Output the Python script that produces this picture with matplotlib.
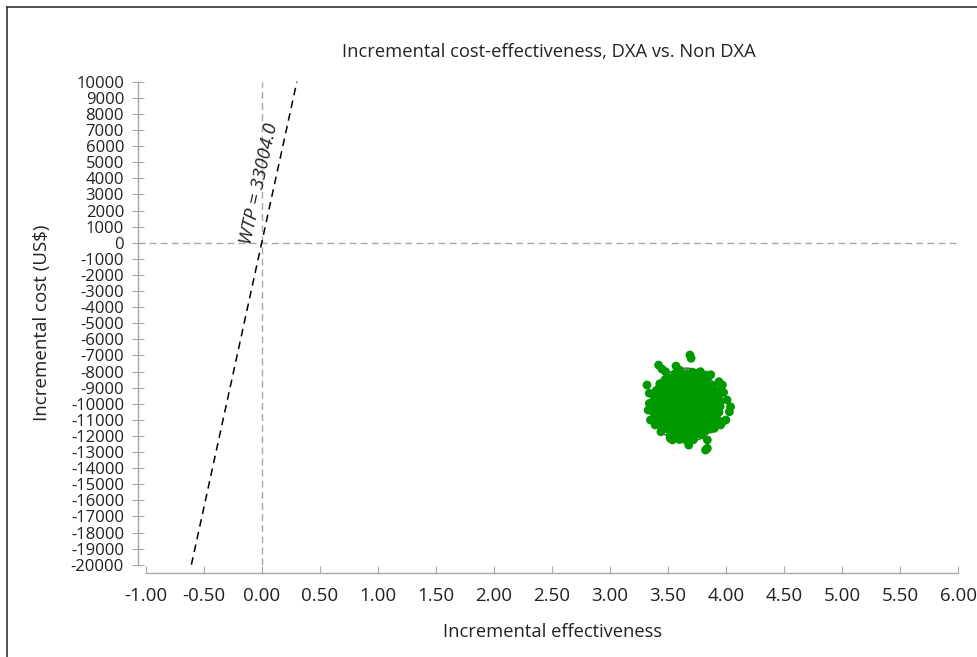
import matplotlib.pyplot as plt
from matplotlib.patches import Ellipse
from matplotlib.lines import Line2D

plt.rcParams['font.family'] = ['Open Sans', 'DejaVu Sans']

title = "Incremental cost-effectiveness, DXA vs. Non DXA"
x_label = "Incremental effectiveness"
y_label = "Incremental cost (US$)"
wtp = 33004.0

x_ticks = [-1.0, -0.5, 0.0, 0.5, 1.0, 1.5, 2.0, 2.5, 3.0, 3.5, 4.0, 4.5, 5.0, 5.5, 6.0]
y_ticks = list(range(-20000, 10001, 1000))

# simulated (effect, cost) pairs
points = [
    (3.56, -8150), (3.61, -8060), (3.66, -8120), (3.71, -8040), (3.76, -8180),
    (3.48, -8480), (3.53, -8390), (3.58, -8500), (3.63, -8420), (3.68, -8470),
    (3.73, -8380), (3.78, -8520), (3.84, -8430),
    (3.43, -8760), (3.48, -8850), (3.54, -8790), (3.59, -8830), (3.64, -8740),
    (3.69, -8860), (3.74, -8780), (3.79, -8820), (3.84, -8750), (3.89, -8870),
    (3.40, -9180), (3.45, -9100), (3.50, -9200), (3.56, -9130), (3.61, -9170),
    (3.66, -9090), (3.71, -9210), (3.76, -9140), (3.81, -9160), (3.86, -9110),
    (3.92, -9190),
    (3.38, -9470), (3.44, -9540), (3.49, -9480), (3.54, -9520), (3.60, -9450),
    (3.65, -9550), (3.70, -9490), (3.75, -9530), (3.80, -9460), (3.85, -9510),
    (3.90, -9560), (3.94, -9480),
    (3.37, -9880), (3.42, -9820), (3.47, -9870), (3.53, -9830), (3.58, -9890),
    (3.63, -9810), (3.68, -9860), (3.73, -9900), (3.78, -9820), (3.84, -9870),
    (3.89, -9840), (3.95, -9880),
    (3.37, -10170), (3.43, -10230), (3.48, -10180), (3.53, -10240), (3.59, -10160),
    (3.64, -10220), (3.69, -10190), (3.74, -10250), (3.79, -10170), (3.85, -10210),
    (3.90, -10230), (3.95, -10160),
    (3.38, -10580), (3.43, -10520), (3.49, -10570), (3.54, -10510), (3.59, -10590),
    (3.64, -10530), (3.70, -10560), (3.75, -10500), (3.80, -10580), (3.85, -10540),
    (3.90, -10600), (3.94, -10520),
    (3.40, -10870), (3.45, -10930), (3.50, -10880), (3.56, -10920), (3.61, -10860),
    (3.66, -10940), (3.71, -10890), (3.76, -10910), (3.81, -10870), (3.87, -10930),
    (3.92, -10880),
    (3.42, -11280), (3.47, -11220), (3.53, -11270), (3.58, -11230), (3.63, -11290),
    (3.68, -11210), (3.73, -11260), (3.78, -11240), (3.84, -11280), (3.89, -11220),
    (3.46, -11570), (3.51, -11630), (3.56, -11580), (3.61, -11620), (3.67, -11560),
    (3.72, -11640), (3.77, -11590), (3.83, -11610), (3.87, -11570),
    (3.52, -11980), (3.57, -11920), (3.63, -11970), (3.68, -11930), (3.73, -11990),
    (3.79, -11940),
    (3.60, -12230), (3.66, -12280), (3.72, -12240),
    # second pass over the dense core
    (3.58, -8300), (3.70, -8280), (3.51, -8650), (3.66, -8620), (3.81, -8640),
    (3.46, -8990), (3.62, -8960), (3.74, -9000), (3.87, -8980), (3.43, -9330),
    (3.57, -9310), (3.68, -9340), (3.83, -9300), (3.40, -9680), (3.52, -9700),
    (3.63, -9670), (3.77, -9690), (3.91, -9700), (3.40, -10020), (3.56, -10040),
    (3.71, -10010), (3.87, -10030), (3.45, -10380), (3.61, -10360), (3.77, -10400),
    (3.92, -10370), (3.47, -10730), (3.63, -10720), (3.78, -10750), (3.52, -11080),
    (3.68, -11060), (3.84, -11090), (3.55, -11420), (3.70, -11440), (3.82, -11410),
    (3.60, -11780), (3.75, -11800),
    # edge points
    (3.69, -6975), (3.70, -7180), (3.42, -7600), (3.57, -7660), (3.48, -8010),
    (3.78, -8010), (3.825, -8220), (3.94, -8630), (3.955, -9150), (4.01, -9770),
    (4.04, -10190), (4.03, -10500), (3.97, -11120), (3.90, -11530), (3.84, -12250),
    (3.825, -12880), (3.68, -12570), (3.54, -12250), (3.44, -11740), (3.35, -11010),
    (3.34, -9980), (3.32, -8840), (3.34, -9350), (3.60, -7910), (3.76, -8110),
    (3.97, -8840), (4.00, -11010), (3.955, -11320), (3.39, -11320), (3.52, -12150),
    (3.84, -12770), (3.33, -10400), (3.45, -7850), (3.87, -8200), (3.98, -9300),
]
d_effect = [p[0] for p in points]
d_cost = [p[1] for p in points]

fig = plt.figure(figsize=(9.77, 6.57), dpi=100)
ax = fig.add_axes([138 / 977, 0.1283, 820 / 977, 0.7575])

grey = "#a8a8a8"
ax.axhline(0, color=grey, lw=1, ls=(0, (5, 3)), zorder=1)
ax.plot([0, 0], [y_ticks[0], y_ticks[-1]], color=grey, lw=1, ls=(0, (5, 3)), zorder=1)

wtp_y = [y_ticks[0], y_ticks[-1]]
wtp_x = [v / wtp for v in wtp_y]
ax.plot(wtp_x, wtp_y, color="black", lw=1.1, ls=(0, (5, 3.5)), zorder=2)
ax.text(-0.02, 3646, "WTP = %.1f" % wtp, rotation=77.7, rotation_mode="anchor",
        ha="center", va="center", fontsize=13.5, style="italic", color="#222222")

ax.add_patch(Ellipse((3.655, -10090), 0.60, 4600, fill=False, ec="#555555", lw=1, zorder=2))
ax.scatter(d_effect, d_cost, s=40, color="#009a00", edgecolors="none", zorder=3)

ax.set_xlim(-1.066, 6.0)
ax.set_ylim(-20497, 10416)
ax.set_xticks(x_ticks)
ax.set_xticklabels(["%.2f" % v for v in x_ticks])
ax.set_yticks(y_ticks)
ax.set_yticklabels([str(v) for v in y_ticks])

for s in ["top", "right"]:
    ax.spines[s].set_visible(False)
ax.spines["left"].set_bounds(y_ticks[0], y_ticks[-1])
ax.spines["bottom"].set_bounds(x_ticks[0], x_ticks[-1])
for s in ["left", "bottom"]:
    ax.spines[s].set_color(grey)
    ax.spines[s].set_linewidth(1)

ax.tick_params(axis="y", direction="inout", length=8, color=grey, labelsize=12,
               labelcolor="#222222", pad=6)
ax.tick_params(axis="x", direction="in", length=5, color=grey, labelsize=13.5,
               labelcolor="#222222", pad=10)

fig.text(549 / 977, 1 - 52 / 657, title, ha="center", va="center", fontsize=13.2, color="#222222")
fig.text(553 / 977, 1 - 632 / 657, x_label, ha="center", va="center", fontsize=13.2, color="#222222")
fig.text(42 / 977, 1 - 323 / 657, y_label, ha="center", va="center", rotation=90,
         fontsize=13.5, color="#222222")

# frame around the figure (only top and left visible in the crop)
fig.add_artist(Line2D([7 / 977, 7 / 977], [0, 1 - 7 / 657], color="#333333", lw=1.2))
fig.add_artist(Line2D([7 / 977, 1], [1 - 7 / 657, 1 - 7 / 657], color="#333333", lw=1.2))

fig.savefig("out.png", dpi=100)
